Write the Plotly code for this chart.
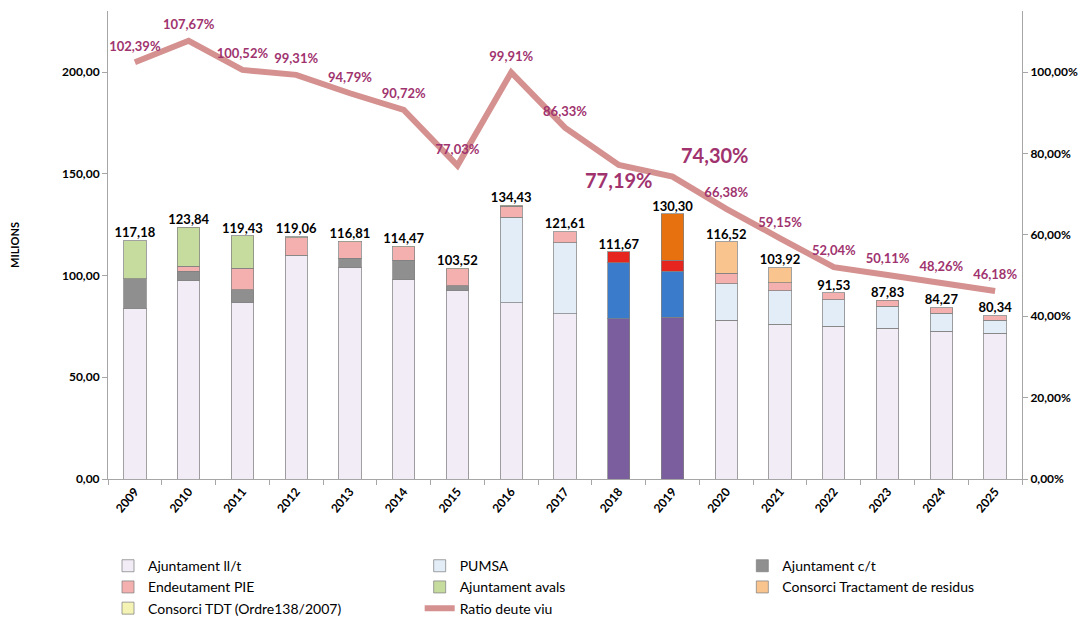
import plotly.graph_objects as go

years = [str(y) for y in range(2009, 2026)]

ajuntament_llt = [84.0, 97.5, 86.6, 110.0, 103.8, 98.0, 92.5, 86.6, 81.2, 78.8, 79.6, 78.0, 76.0, 75.0, 74.0, 72.7, 71.7]
pumsa = [0, 0, 0, 0, 0, 0, 0, 42.0, 35.0, 27.5, 22.5, 18.0, 16.5, 13.0, 11.0, 8.8, 6.3]
ajuntament_ct = [14.5, 4.5, 6.5, 0, 4.7, 9.4, 2.5, 0, 0, 0, 0, 0, 0, 0, 0, 0, 0]
endeutament_pie = [0, 2.5, 10.5, 8.66, 8.0, 6.67, 8.22, 5.43, 5.41, 5.37, 5.5, 5.02, 4.0, 3.53, 2.83, 2.77, 2.34]
ajuntament_avals = [18.68, 19.34, 15.83, 0, 0, 0, 0, 0, 0, 0, 0, 0, 0, 0, 0, 0, 0]
consorci_residus = [0, 0, 0, 0, 0, 0, 0, 0, 0, 0, 22.7, 15.5, 7.42, 0, 0, 0, 0]
consorci_tdt = [0, 0, 0, 0.4, 0.31, 0.4, 0.3, 0.4, 0, 0, 0, 0, 0, 0, 0, 0, 0]

totals = [117.18, 123.84, 119.43, 119.06, 116.81, 114.47, 103.52, 134.43, 121.61,
          111.67, 130.30, 116.52, 103.92, 91.53, 87.83, 84.27, 80.34]
ratio = [1.0239, 1.0767, 1.0052, 0.9931, 0.9479, 0.9072, 0.7703, 0.9991, 0.8633,
         0.7719, 0.7430, 0.6638, 0.5915, 0.5204, 0.5011, 0.4826, 0.4618]

highlight = ["2018", "2019"]


def nz(vals):
    return [v if v else None for v in vals]


def colors(base, hi, only=None):
    out = []
    for y in years:
        if (only is None and y in highlight) or (only is not None and y in only):
            out.append(hi)
        else:
            out.append(base)
    return out


edge = dict(color="rgba(130,130,130,0.75)", width=1)
fig = go.Figure()

# (name, values, colours, legend column)
series = [
    ("Ajuntament ll/t", ajuntament_llt, colors("#F1ECF6", "#7B5E9E"), "legend"),
    ("PUMSA", pumsa, colors("#E2EDF8", "#3A7BCB"), "legend2"),
    ("Ajuntament c/t", ajuntament_ct, colors("#8F8F8F", "#8F8F8F"), "legend3"),
    ("Endeutament PIE", endeutament_pie, colors("#F4B0AE", "#E5251E"), "legend"),
    ("Ajuntament avals", ajuntament_avals, colors("#C6DB9E", "#C6DB9E"), "legend2"),
    ("Consorci Tractament de residus", consorci_residus,
     colors("#FAC48F", "#E8710F", only=["2019"]), "legend3"),
    ("Consorci TDT (Ordre138/2007)", consorci_tdt, colors("#F4F3B4", "#F4F3B4"), "legend"),
]

for name, vals, cols, lg in series:
    fig.add_trace(go.Bar(
        name=name, x=years, y=nz(vals), legend=lg,
        marker=dict(color=cols, line=edge),
        hoverinfo="skip",
    ))

# total labels
fig.add_trace(go.Scatter(
    x=years, y=totals, mode="text",
    text=[f"{t:.2f}".replace(".", ",") for t in totals],
    textposition="top center",
    textfont=dict(family="Lato", size=13, color="#000000", weight="bold"),
    showlegend=False, hoverinfo="skip",
))

ratio_pos = ["top center"] * len(years)
ratio_size = [13] * len(years)
ratio_pos[years.index("2018")] = "bottom center"
ratio_pos[years.index("2019")] = "top right"
ratio_size[years.index("2018")] = 20
ratio_size[years.index("2019")] = 20

fig.add_trace(go.Scatter(
    name="Ratio deute viu", x=years, y=ratio, yaxis="y2", legend="legend2",
    mode="lines+markers+text",
    line=dict(color="#D4918F", width=6),
    marker=dict(size=12, color="rgba(0,0,0,0)"),
    text=[f"{r*100:.2f}%".replace(".", ",") for r in ratio],
    textposition=ratio_pos,
    textfont=dict(family="Lato", size=ratio_size, color="#A0336E", weight="bold"),
    hoverinfo="skip",
))

leg_common = dict(
    orientation="v", xanchor="left", y=-0.152, yanchor="top",
    traceorder="normal", font=dict(size=14, color="#000000"),
    tracegroupgap=0, itemwidth=30, bgcolor="rgba(0,0,0,0)",
)

fig.update_layout(
    width=1091, height=637,
    barmode="stack", bargap=0.585,
    separators=",.",
    paper_bgcolor="white", plot_bgcolor="white",
    margin=dict(l=108, r=69, t=11, b=158),
    font=dict(family="Lato", size=12, color="#000000"),
    xaxis=dict(
        type="category", range=[-0.5, len(years) - 0.5],
        showgrid=False, showline=True, linecolor="#A6A6A6",
        ticks="outside", tickson="boundaries", ticklen=5, tickcolor="#A6A6A6",
        tickangle=-50, tickfont=dict(size=12, weight="bold"), automargin=False,
    ),
    yaxis=dict(
        range=[0, 230], tickvals=[0, 50, 100, 150, 200], tickformat=".2f",
        showgrid=False, showline=True, linecolor="#A6A6A6", zeroline=False,
        ticks="outside", ticklen=5, tickcolor="#A6A6A6",
        tickfont=dict(size=12, weight="bold"), automargin=False,
        title=dict(text="MILIONS", font=dict(size=11, weight="bold"), standoff=40),
    ),
    yaxis2=dict(
        overlaying="y", side="right", range=[0, 1.15],
        tickvals=[0, 0.2, 0.4, 0.6, 0.8, 1.0], tickformat=".2%",
        showgrid=False, showline=True, linecolor="#A6A6A6", zeroline=False,
        ticks="outside", ticklen=5, tickcolor="#A6A6A6",
        tickfont=dict(size=12, weight="bold"), automargin=False,
    ),
    legend=dict(x=0.0, **leg_common),
    legend2=dict(x=0.341, **leg_common),
    legend3=dict(x=0.694, **leg_common),
)

fig.write_html("out.html", config={"displayModeBar": False},
               post_script="document.body.style.margin='0';")
